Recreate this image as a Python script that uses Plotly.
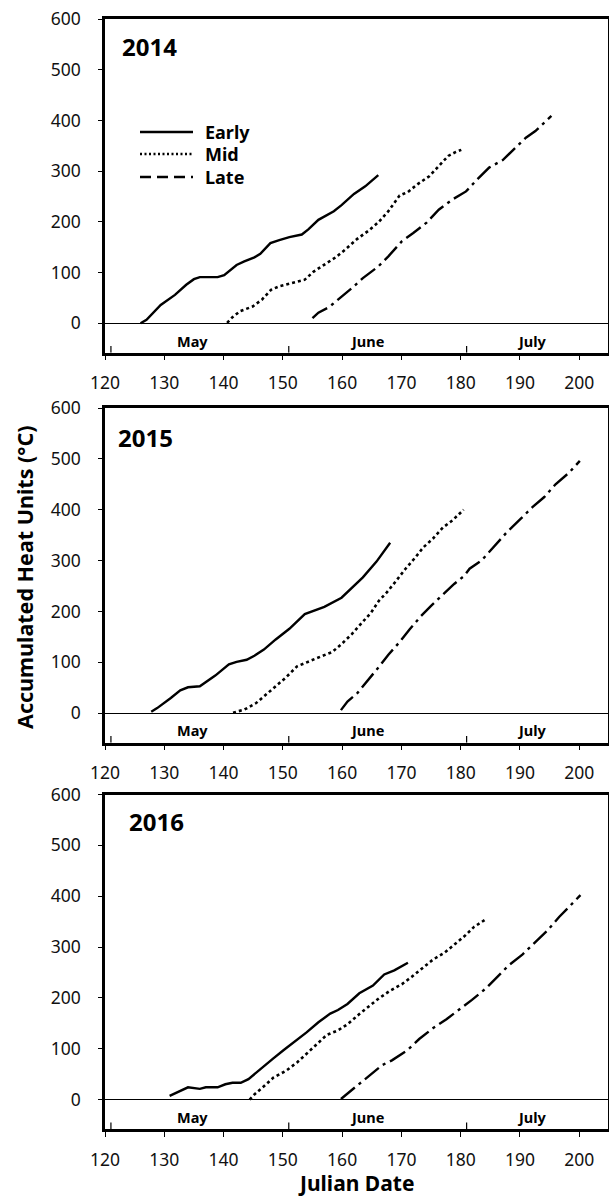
import plotly.graph_objects as go

# ---------------- data ----------------
years = ["2014", "2015", "2016"]
series_names = ["Early", "Mid", "Late"]

early_2014_day = [126, 127, 129.4, 131.8, 133.7, 135, 136, 139, 140.1, 142.2, 143.5, 145.2, 146.2, 147.9, 149.4, 151.1, 153.2, 154.3, 156, 158.6, 159.9, 162, 163.9, 166.1]
early_2014_ahu = [0, 7, 36, 56, 76, 87, 91, 91, 95, 115, 122, 130, 137, 158, 164, 170, 175, 185, 204, 221, 233, 255, 270, 292]
mid_2014_day = [140.6, 141.5, 142.8, 144.9, 146.5, 148, 149.4, 152, 153.7, 155.2, 157, 158.9, 160.6, 162.5, 164.5, 166.1, 167.8, 169.7, 171.1, 172.7, 174.7, 176.3, 177.9, 179.2, 180.1]
mid_2014_ahu = [1, 12, 24, 33, 47, 66, 73, 80, 86, 102, 115, 130, 146, 166, 183, 199, 221, 252, 259, 274, 290, 310, 330, 338, 342]
late_2014_day = [155, 156, 157.8, 159.6, 161.6, 163.5, 166.1, 167.8, 170.1, 172, 174.3, 176.3, 178.6, 180.9, 182.8, 184.8, 187.1, 188.7, 191, 192.6, 195.3]
late_2014_ahu = [10, 21, 32, 49, 69, 89, 112, 132, 162, 178, 199, 224, 244, 260, 284, 307, 322, 340, 366, 379, 409]

early_2015_day = [127.8, 128.8, 131.1, 132.7, 134, 136, 138.6, 140.9, 142.2, 143.9, 145.2, 146.8, 148.8, 151.1, 153.7, 155, 157, 159.9, 161.2, 163.5, 165.8, 168.1]
early_2015_ahu = [3, 10, 30, 45, 51, 53, 74, 96, 101, 105, 113, 125, 145, 166, 195, 200, 209, 227, 241, 267, 298, 335]
mid_2015_day = [141.6, 143.5, 145.5, 147.3, 149.1, 150.4, 152.4, 154.3, 156.3, 158.3, 159.9, 161.6, 163.2, 164.9, 166.2, 167.5, 169.1, 170.7, 172.4, 173.7, 175.3, 177, 178.6, 180.5]
mid_2015_ahu = [1, 7, 20, 38, 56, 69, 92, 102, 111, 120, 136, 155, 176, 198, 221, 237, 260, 284, 307, 326, 343, 365, 379, 400]
late_2015_day = [159.8, 160.9, 162.6, 164.5, 166.2, 167.8, 169.7, 171.4, 173.3, 175, 177.3, 178.9, 180.6, 181.5, 183.5, 185.8, 187.8, 190.1, 192.1, 194.1, 196, 198.3, 200.1]
late_2015_ahu = [6, 23, 40, 66, 91, 115, 140, 165, 191, 211, 237, 254, 270, 284, 300, 330, 356, 382, 405, 425, 450, 473, 496]

early_2016_day = [130.9, 132.4, 134, 136, 137, 139, 140.3, 141.5, 142.9, 144.2, 145.8, 147.5, 148.4, 150.1, 152.4, 154, 156, 158, 159.3, 160.9, 162.9, 165.2, 167.1, 168.8, 171.1]
early_2016_ahu = [7, 15, 24, 21, 24, 24, 30, 33, 33, 40, 56, 73, 81, 97, 117, 132, 152, 169, 176, 188, 209, 224, 246, 254, 269]
mid_2016_day = [144.4, 145.2, 146.8, 148.4, 150.6, 152.4, 154, 155.9, 157.4, 159.3, 160.9, 162.9, 164.5, 166.2, 168.1, 170.1, 171.7, 173.7, 175.3, 177.3, 178.9, 180.7, 182.3, 184.3]
mid_2016_ahu = [0, 10, 26, 43, 57, 73, 90, 110, 127, 136, 148, 168, 183, 199, 214, 227, 241, 260, 275, 289, 305, 322, 340, 355]
late_2016_day = [159.8, 160.9, 162.6, 164.5, 166.8, 168.4, 171, 173, 175.3, 177.6, 179.9, 181.9, 184.2, 186.1, 188.1, 190.4, 192.7, 194.6, 196.6, 200.2]
late_2016_ahu = [1, 11, 28, 46, 68, 77, 97, 119, 140, 158, 178, 196, 218, 241, 264, 285, 310, 332, 359, 402]

x_ticks = [120, 130, 140, 150, 160, 170, 180, 190, 200]
y_ticks = [0, 100, 200, 300, 400, 500, 600]
month_names = ["May", "June", "July"]
month_label_day = [134.8, 164.2, 192.0]
month_bounds = [121, 151, 181]

panel_data = {
    "2014": [(early_2014_day, early_2014_ahu), (mid_2014_day, mid_2014_ahu), (late_2014_day, late_2014_ahu)],
    "2015": [(early_2015_day, early_2015_ahu), (mid_2015_day, mid_2015_ahu), (late_2015_day, late_2015_ahu)],
    "2016": [(early_2016_day, early_2016_ahu), (mid_2016_day, mid_2016_ahu), (late_2016_day, late_2016_ahu)],
}

# ---------------- styling ----------------
W, H = 609, 1196
FONT = "Noto Sans"
line_styles = [
    dict(color="black", width=2.4, dash="solid"),
    dict(color="black", width=2.6, dash="dot"),
    dict(color="black", width=2.4, dash="18px,5px,3px,5px"),
]
legend_dash = ["solid", "2px,2.5px", "11px,6px"]
X_RANGE = [120, 204.9]
Y_RANGE = [-58, 600]
x_dom = [105 / W, 608.3 / W]
panel_px = [(19, 352.7), (408, 742.7), (794.5, 1129)]  # top, bottom in px
title_pos = [(122.5, 545), (121.9, 542), (123.7, 546)]

fig = go.Figure()
layout_axes = {}
annotations = []
shapes = []

for i, yr in enumerate(years):
    n = i + 1
    xa = "x" if n == 1 else f"x{n}"
    ya = "y" if n == 1 else f"y{n}"
    for j, (d, v) in enumerate(panel_data[yr]):
        fig.add_trace(go.Scatter(
            x=d, y=v, mode="lines", name=series_names[j],
            line=line_styles[j], xaxis=xa, yaxis=ya, showlegend=False,
        ))
    top, bot = panel_px[i]
    xkey = "xaxis" if n == 1 else f"xaxis{n}"
    ykey = "yaxis" if n == 1 else f"yaxis{n}"
    layout_axes[xkey] = dict(
        domain=x_dom, anchor=ya, range=X_RANGE, tickvals=x_ticks, automargin=False,
        ticks="outside", ticklen=5, tickwidth=1, tickcolor="black",
        showline=True, linewidth=2.5, linecolor="black", mirror=True,
        showgrid=False, zeroline=False, ticklabelstandoff=8,
        tickfont=dict(family=FONT, size=17.5, color="#111"),
    )
    layout_axes[ykey] = dict(
        domain=[1 - bot / H, 1 - top / H], anchor=xa, range=Y_RANGE, tickvals=y_ticks,
        automargin=False,
        ticks="outside", ticklen=4, tickwidth=1, tickcolor="black",
        showline=True, linewidth=2.5, linecolor="black", mirror=True,
        showgrid=False, zeroline=True, zerolinecolor="black", zerolinewidth=1.2,
        ticklabelstandoff=14,
        tickfont=dict(family=FONT, size=17.5, color="#111"),
    )
    annotations.append(dict(
        x=title_pos[i][0], y=title_pos[i][1], xref=xa, yref=ya, text=f"<b>{yr}</b>",
        showarrow=False, xanchor="left", yanchor="middle",
        font=dict(family=FONT, size=24, color="black"),
    ))
    for mname, mday in zip(month_names, month_label_day):
        annotations.append(dict(
            x=mday, y=-34, xref=xa, yref=ya, text=f"<b>{mname}</b>", showarrow=False,
            xanchor="center", yanchor="middle", font=dict(family=FONT, size=14.5, color="black"),
        ))
    for b in month_bounds:
        shapes.append(dict(type="line", xref=xa, yref=ya, x0=b, x1=b, y0=Y_RANGE[0], y1=-45,
                           line=dict(color="black", width=1.2)))

# legend (drawn in the first panel, paper px positions)
leg_x0, leg_x1, leg_text_x = 140, 193, 203
leg_rows = [132, 154, 177]
for j, name in enumerate(series_names):
    yy = 1 - leg_rows[j] / H
    shapes.append(dict(type="line", xref="paper", yref="paper",
                       x0=leg_x0 / W, x1=leg_x1 / W, y0=yy, y1=yy,
                       line=dict(color="black", width=2.6, dash=legend_dash[j])))
    annotations.append(dict(x=leg_text_x / W, y=yy, xref="paper", yref="paper",
                            text=f"<b>{name}</b>", showarrow=False, xanchor="left", yanchor="middle",
                            font=dict(family=FONT, size=18, color="black")))

annotations.append(dict(
    x=24 / W, y=1 - 577 / H, xref="paper", yref="paper", textangle=-90,
    text="<b>Accumulated Heat Units (°C)</b>", showarrow=False,
    xanchor="center", yanchor="middle", font=dict(family=FONT, size=21.5, color="black"),
))
annotations.append(dict(
    x=356 / W, y=1 - 1183 / H, xref="paper", yref="paper",
    text="<b>Julian Date</b>", showarrow=False,
    xanchor="center", yanchor="middle", font=dict(family=FONT, size=21, color="black"),
))

fig.update_layout(
    width=W, height=H,
    margin=dict(l=0, r=0, t=0, b=0, autoexpand=False),
    paper_bgcolor="white", plot_bgcolor="white",
    showlegend=False,
    annotations=annotations, shapes=shapes,
    **layout_axes,
)

fig.write_html(
    "out.html",
    config={"displayModeBar": False},
    post_script="document.body.style.margin='0';document.body.style.overflow='hidden';",
)
